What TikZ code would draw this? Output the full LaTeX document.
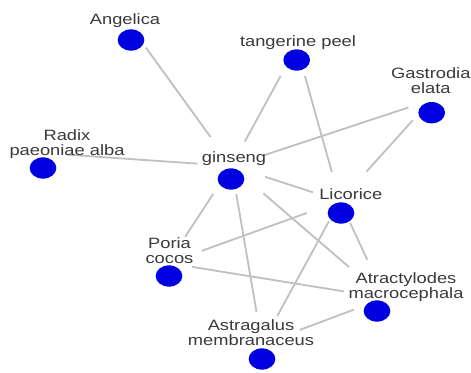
\documentclass[tikz,border=0pt]{standalone}
\usepackage{fontspec}
\usetikzlibrary{shapes.geometric}
\newfontfamily\lblfont{Liberation Sans}[FakeStretch=1.22]
\definecolor{herbblue}{RGB}{0,0,225}
\definecolor{linkgray}{RGB}{192,192,192}
\definecolor{textgray}{RGB}{58,58,58}
\tikzset{
  herb/.style={ellipse, fill=herbblue, draw=none, minimum width=26.7pt, minimum height=21.3pt, inner sep=0pt},
  lbl/.style={anchor=base, inner sep=0pt, text=textgray, font=\lblfont\fontsize{15pt}{16pt}\selectfont},
  link/.style={draw=linkgray, line width=1.8pt}
}
\begin{document}
\begin{tikzpicture}[x=1pt, y=-1pt]
\useasboundingbox[fill=white] (0,0) rectangle (471,372);

% hub points where the links meet
\coordinate (ang) at (131,27);
\coordinate (tan) at (296.6,46.6);
\coordinate (gas) at (431,100);
\coordinate (rad) at (43,153);
\coordinate (gin) at (231.5,166);
\coordinate (lic) at (340,201);
\coordinate (por) at (168,263);
\coordinate (atr) at (385,298);
\coordinate (ast) at (262,344);

% links
\draw[link, shorten <=25.4pt, shorten >=35.9pt] (ang) -- (gin);
\draw[link, shorten <=23.8pt, shorten >=34.3pt] (rad) -- (gin);
\draw[link, shorten <=33.4pt, shorten >=27.8pt] (tan) -- (gin);
\draw[link, shorten <=30.6pt, shorten >=30.2pt] (tan) -- (lic);
\draw[link, shorten <=23.8pt, shorten >=33.4pt] (gas) -- (gin);
\draw[link, shorten <=27.1pt, shorten >=39.6pt] (gas) -- (lic);
\draw[link, shorten <=35.2pt, shorten >=28.3pt] (gin) -- (lic);
\draw[link, shorten <=33.4pt, shorten >=31.3pt] (gin) -- (por);
\draw[link, shorten <=28.4pt, shorten >=32.7pt] (gin) -- (ast);
\draw[link, shorten <=41.9pt, shorten >=47.4pt] (gin) -- (atr);
\draw[link, shorten <=35.3pt, shorten >=35.9pt] (lic) -- (por);
\draw[link, shorten <=23.4pt, shorten >=32.1pt] (lic) -- (ast);
\draw[link, shorten <=24.2pt, shorten >=42.2pt] (lic) -- (atr);
\draw[link, shorten <=24.2pt, shorten >=41.4pt] (por) -- (atr);
\draw[link, shorten <=40.5pt, shorten >=33.2pt] (ast) -- (atr);

% herb dots
\node[herb] (ang-dot) at (131,40) {};
\node[herb] (tan-dot) at (296.7,60) {};
\node[herb] (gas-dot) at (431.7,112.7) {};
\node[herb] (rad-dot) at (43,168) {};
\node[herb] (gin-dot) at (231,179) {};
\node[herb] (lic-dot) at (341,213) {};
\node[herb] (por-dot) at (169,276) {};
\node[herb] (atr-dot) at (377,311) {};
\node[herb] (ast-dot) at (262,359) {};

% herb names
\node[lbl] (ang-txt) at (125,24) {Angelica};
\node[lbl] (tan-txt) at (298,46.5) {tangerine peel};
\node[lbl] (gas-txt1) at (430.8,78.3) {Gastrodia};
\node[lbl] (gas-txt2) at (430.8,93.3) {elata};
\node[lbl] (rad-txt1) at (67,140) {Radix};
\node[lbl] (rad-txt2) at (67,155) {paeoniae alba};
\node[lbl] (gin-txt) at (234,162.3) {ginseng};
\node[lbl] (lic-txt) at (350.8,199) {Licorice};
\node[lbl] (por-txt1) at (169.5,248.3) {Poria};
\node[lbl] (por-txt2) at (169.5,263.3) {cocos};
\node[lbl] (atr-txt1) at (406,283.3) {Atractylodes};
\node[lbl] (atr-txt2) at (406,298.3) {macrocephala};
\node[lbl] (ast-txt1) at (251,330) {Astragalus};
\node[lbl] (ast-txt2) at (251,345) {membranaceus};
\end{tikzpicture}
\end{document}
